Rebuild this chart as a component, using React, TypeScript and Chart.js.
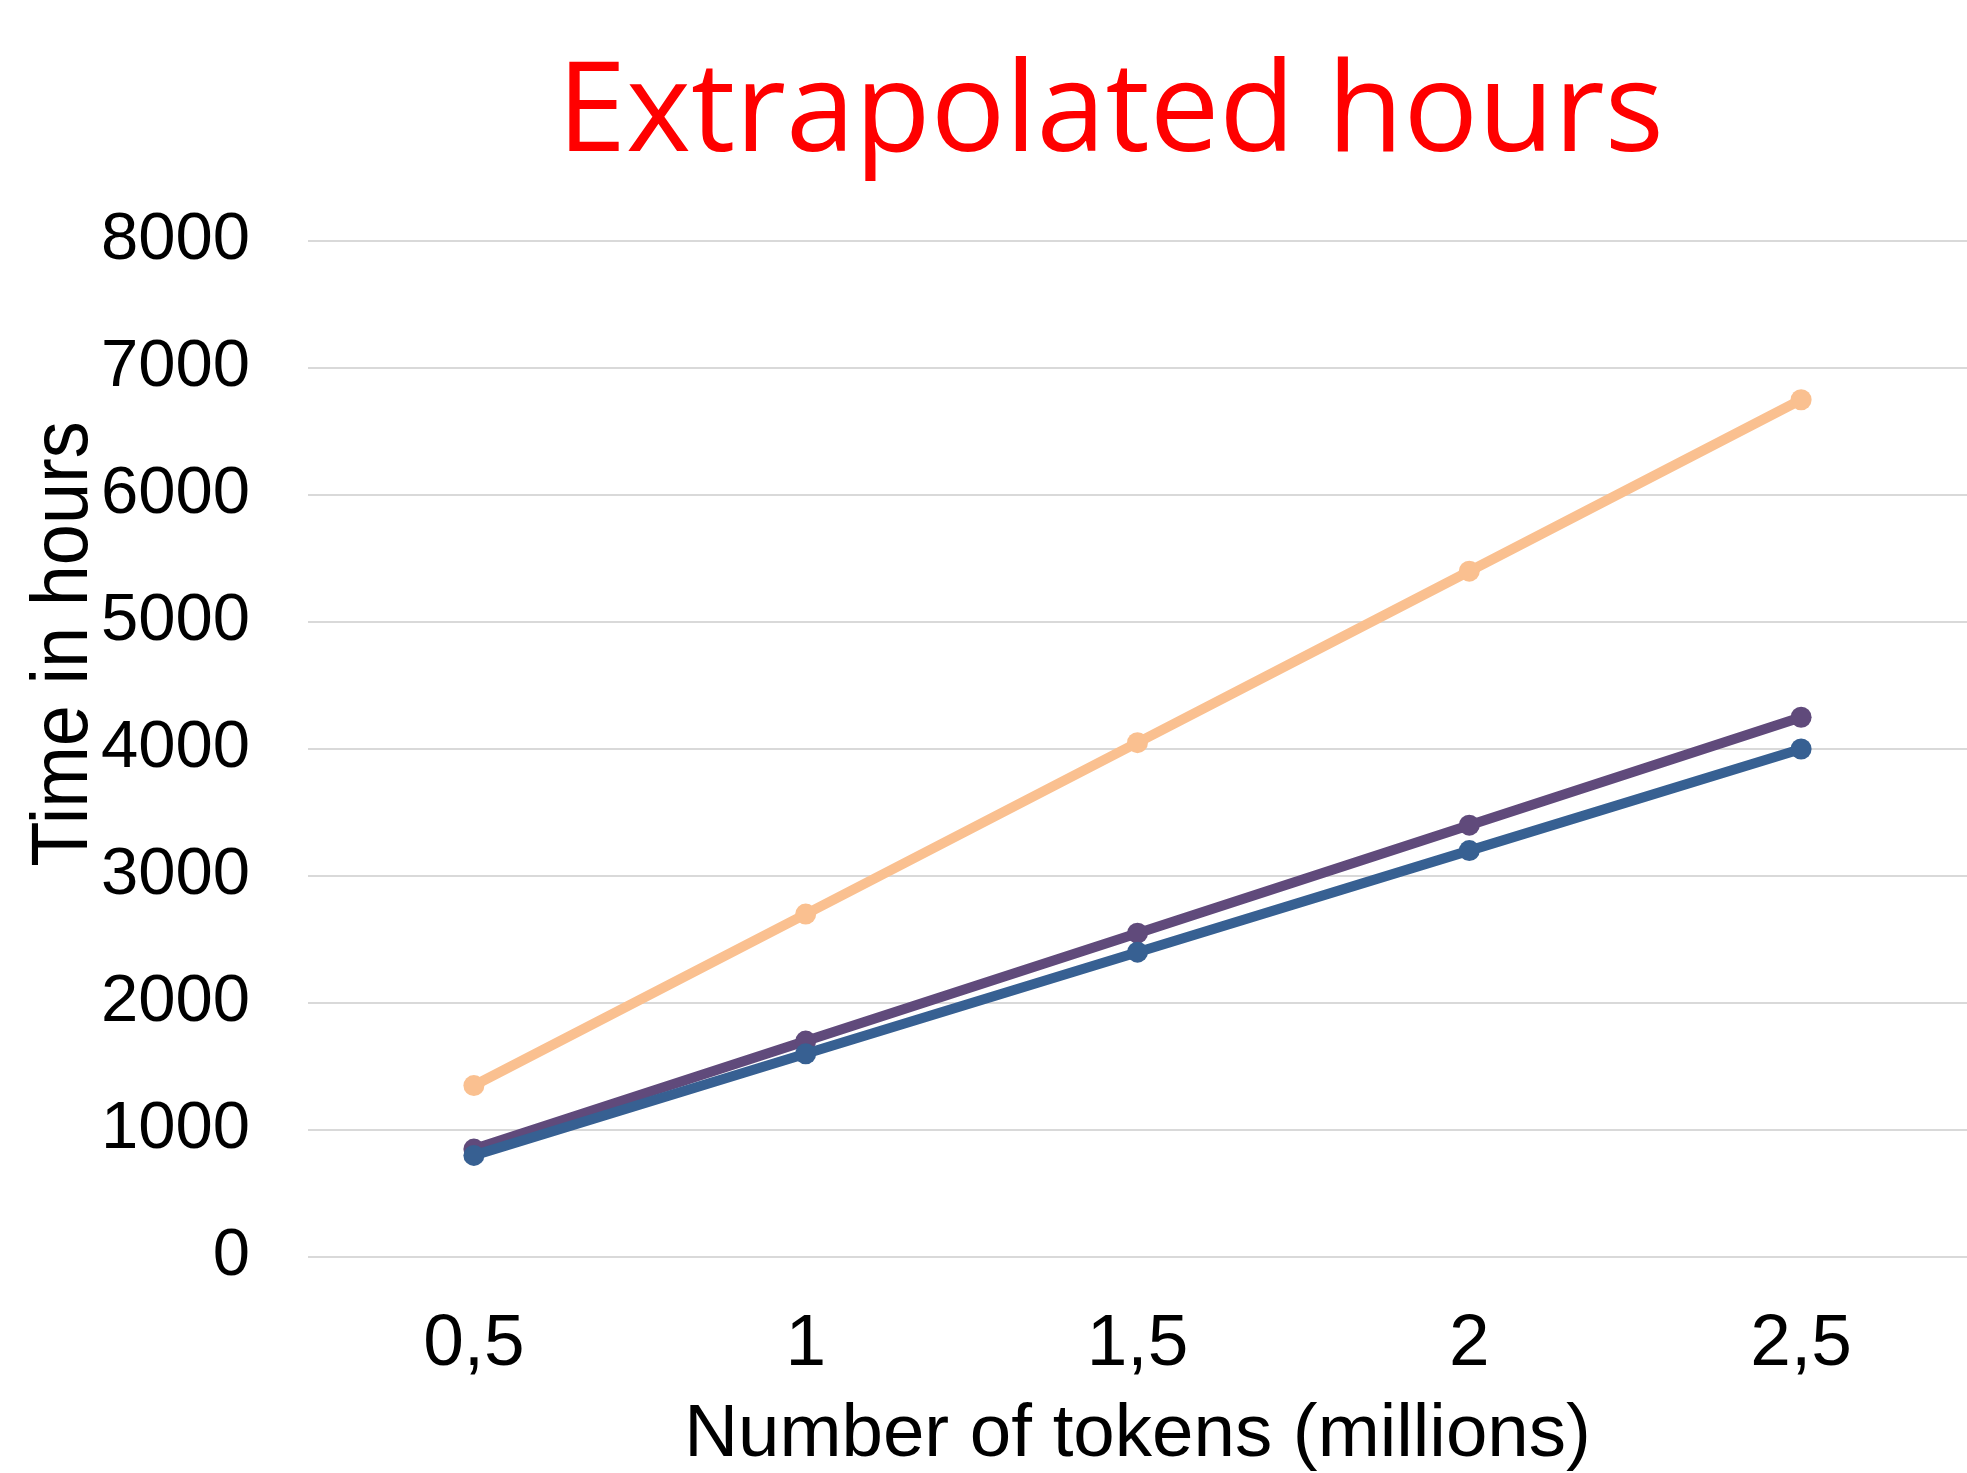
import React, { useEffect, useRef } from "react";
import { Chart, registerables } from "chart.js";

Chart.register(...registerables);

const CATEGORIES = ["0,5", "1", "1,5", "2", "2,5"];
const SERIES_ORANGE = [1350, 2700, 4050, 5400, 6750];
const SERIES_PURPLE = [850, 1700, 2550, 3400, 4250];
const SERIES_BLUE = [800, 1600, 2400, 3200, 4000];
const Y_TICKS = [0, 1000, 2000, 3000, 4000, 5000, 6000, 7000, 8000];
const TITLE = "Extrapolated hours";
const X_TITLE = "Number of tokens (millions)";
const Y_TITLE = "Time in hours";

const COLOR_ORANGE = "#FAC090";
const COLOR_PURPLE = "#604A7B";
const COLOR_BLUE = "#376092";

const FONT_FAMILY = '"Liberation Sans", Arial, sans-serif';

const titlesPlugin = {
  id: "customTitles",
  afterDraw(chart: any) {
    const { ctx, chartArea } = chart;
    ctx.save();
    // main title
    ctx.fillStyle = "#FF0000";
    ctx.font = '124px "Open Sans"';
    ctx.textAlign = "center";
    ctx.textBaseline = "alphabetic";
    ctx.fillText(TITLE, (chartArea.left + chartArea.right) / 2 - 27, 151);
    ctx.restore();
    // y axis title (slightly condensed, as in the reference)
    ctx.save();
    ctx.fillStyle = "#000000";
    ctx.font = "80px " + FONT_FAMILY;
    ctx.translate(87, (chartArea.top + chartArea.bottom) / 2 - 105);
    ctx.rotate(-Math.PI / 2);
    ctx.scale(0.925, 1);
    ctx.textAlign = "center";
    ctx.textBaseline = "alphabetic";
    ctx.fillText(Y_TITLE, 0, 0);
    ctx.restore();
  },
};

function makeDataset(label: string, data: number[], color: string, order: number) {
  return {
    label,
    data,
    borderColor: color,
    backgroundColor: color,
    borderWidth: 10,
    pointRadius: 10.5,
    pointHoverRadius: 10.5,
    pointBorderWidth: 0,
    pointBackgroundColor: color,
    pointBorderColor: color,
    tension: 0,
    order,
  };
}

export default function App() {
  const ref = useRef<HTMLCanvasElement | null>(null);
  useEffect(() => {
    if (!ref.current) return;
    const chart = new Chart(ref.current, {
      type: "line",
      data: {
        labels: CATEGORIES,
        datasets: [
          makeDataset("Orange", SERIES_ORANGE, COLOR_ORANGE, 3),
          makeDataset("Purple", SERIES_PURPLE, COLOR_PURPLE, 2),
          makeDataset("Blue", SERIES_BLUE, COLOR_BLUE, 1),
        ],
      },
      options: {
        animation: false,
        responsive: false,
        devicePixelRatio: 1,
        layout: { autoPadding: false, padding: { top: 241, left: 0, right: -5, bottom: 0 } },
        plugins: {
          legend: { display: false },
          title: { display: false },
          tooltip: { enabled: false },
        },
        scales: {
          x: {
            type: "category",
            offset: true,
            grid: { display: false, drawTicks: false },
            border: { display: false },
            ticks: {
              color: "#000000",
              padding: 44,
              font: { family: FONT_FAMILY, size: 73 },
              maxRotation: 0,
              autoSkip: false,
            },
            title: {
              display: true,
              text: X_TITLE,
              color: "#000000",
              font: { family: FONT_FAMILY, size: 74.5, lineHeight: 1 },
              padding: 0,
            },
            afterFit: (scale: any) => {
              scale.height = 216;
              scale.paddingLeft = 0;
              scale.paddingRight = 0;
            },
          },
          y: {
            min: 0,
            max: 8000,
            afterBuildTicks: (scale: any) => {
              scale.ticks = Y_TICKS.map((v) => ({ value: v }));
            },
            grid: { color: "#D9D9D9", lineWidth: 2, drawTicks: false },
            border: { display: false },
            ticks: {
              color: "#000000",
              padding: 58,
              font: { family: FONT_FAMILY, size: 67 },
              callback: (value: any) => String(value),
            },
            afterFit: (scale: any) => {
              scale.width = 308;
            },
          },
        },
      },
      plugins: [titlesPlugin],
    });
    return () => chart.destroy();
  }, []);
  return (
    <div style={{ position: "fixed", left: 0, top: 0, width: 1967, height: 1473, background: "#ffffff" }}>
      <canvas ref={ref} width={1967} height={1473} style={{ display: "block" }} />
    </div>
  );
}
